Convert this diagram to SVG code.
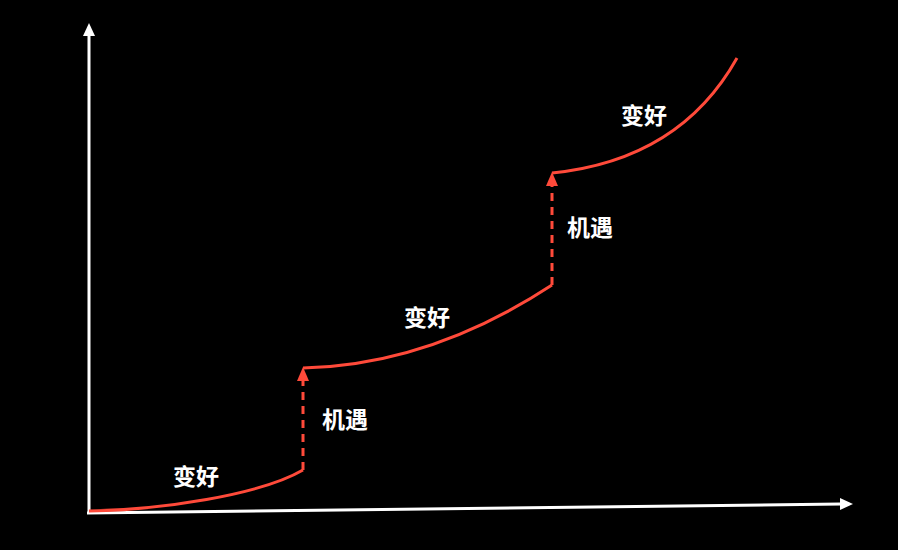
<svg xmlns="http://www.w3.org/2000/svg" width="898" height="550" viewBox="0 0 898 550">
<style>
.axis{stroke:#fff;stroke-width:3;fill:none}
.curve{stroke:#ff4a3a;stroke-width:3;fill:none}
.dash{stroke:#ff4a3a;stroke-width:3;fill:none;stroke-dasharray:8 6}
.lbl{fill:#fff;font-family:"Noto Sans CJK SC","Noto Sans",sans-serif;font-weight:bold;font-size:23px;text-anchor:middle}
</style>
<rect width="898" height="550" fill="#000"/>
<g id="connectors">
<path class="axis" d="M89,513 L89,34"/>
<polygon points="89,23 83,36 95,36" fill="#fff"/>
<path class="axis" d="M87,513 L841,504"/>
<polygon points="853,504 840,498 840,510" fill="#fff"/>
<path class="curve" d="M89,511 C160,510 260,495 303,470"/>
<path class="dash" d="M303,470 L303,380"/>
<polygon points="303,367 297,381 309,381" fill="#ff4a3a"/>
<path class="curve" d="M303,368 Q430,365 552,285"/>
<path class="dash" d="M552,285 L552,185"/>
<polygon points="552,172 546,186 558,186" fill="#ff4a3a"/>
<path class="curve" d="M552,173 Q680,160 737,58"/>
</g>
<g id="label1"><text class="lbl" x="196" y="485">变好</text></g>
<g id="label2"><text class="lbl" x="345" y="428">机遇</text></g>
<g id="label3"><text class="lbl" x="427" y="326">变好</text></g>
<g id="label4"><text class="lbl" x="590" y="236">机遇</text></g>
<g id="label5"><text class="lbl" x="644" y="124">变好</text></g>
</svg>
